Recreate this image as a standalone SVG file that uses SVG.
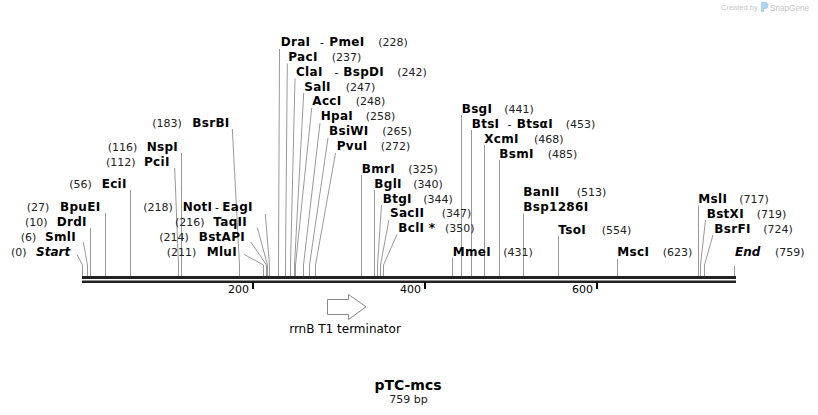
<svg xmlns="http://www.w3.org/2000/svg" width="818" height="415" viewBox="0 0 818 415">
<style>
text{font-family:"DejaVu Sans",Verdana,sans-serif;font-size:11px;fill:#000}
.b{font-weight:bold;font-size:12px;letter-spacing:0.3px}
.bi{font-weight:bold;font-style:italic;font-size:12px}
.p{fill:#222}
.c line,.c polyline{stroke:#999;stroke-width:1;fill:none}
.tick{fill:#000}
.logo{font-family:"Liberation Sans",Arial,sans-serif;fill:#c8c8c8}
</style>
<rect width="818" height="415" fill="#fff"/>
<g id="logo">
<text class="logo" x="721" y="10" style="font-size:7.5px">Created by</text>
<path d="M761 2 h4 a3.5 3.5 0 0 1 0 7 h-1 v3 h-3 z" fill="#a9d3ee"/>
<text class="logo" x="770" y="11" style="font-size:8.2px">SnapGene</text>
</g>
<g id="backbone">
<rect x="82" y="276" width="654" height="3" fill="#222"/>
<rect x="82" y="280.5" width="654" height="2.5" fill="#222"/>
<rect class="tick" x="252" y="282" width="2" height="7"/>
<rect class="tick" x="424" y="282" width="2" height="7"/>
<rect class="tick" x="596" y="282" width="2" height="7"/>
<text x="249" y="292.5" text-anchor="end">200</text>
<text x="421" y="292.5" text-anchor="end">400</text>
<text x="593" y="292.5" text-anchor="end">600</text>
</g>
<g class="c" id="connectors">
<polyline points="77.3,255 82.5,265 82.5,276"/>
<polyline points="83.3,242 87.5,265 87.5,276"/>
<line x1="90.5" y1="228" x2="90.5" y2="276"/>
<line x1="105.5" y1="213" x2="105.5" y2="276"/>
<line x1="130.5" y1="190" x2="130.5" y2="276"/>
<polyline points="174.7,168 178.5,265 178.5,276"/>
<line x1="181.5" y1="153" x2="181.5" y2="276"/>
<polyline points="232.3,129 239.5,265 239.5,276"/>
<polyline points="244.3,254.5 263.5,265 263.5,276"/>
<polyline points="250.7,242 266.5,265 266.5,276"/>
<polyline points="257.3,227.5 267.5,265 267.5,276"/>
<polyline points="265.3,214 269.5,265 269.5,276"/>
<polyline points="279.5,49 278.5,265 278.5,276"/>
<polyline points="287.3,63.5 285.5,265 285.5,276"/>
<polyline points="295,78.5 290.5,265 290.5,276"/>
<polyline points="303.7,93 294.5,265 294.5,276"/>
<polyline points="311.7,108 295.5,265 295.5,276"/>
<polyline points="320,123 303.5,265 303.5,276"/>
<polyline points="328,138 309.5,265 309.5,276"/>
<polyline points="335.5,153 315.5,265 315.5,276"/>
<line x1="361.5" y1="175" x2="361.5" y2="276"/>
<line x1="374.5" y1="190" x2="374.5" y2="276"/>
<polyline points="381.5,205 377.5,265 377.5,276"/>
<polyline points="389,219.5 380.5,265 380.5,276"/>
<polyline points="397,234.5 383.5,265 383.5,276"/>
<line x1="452.5" y1="258" x2="452.5" y2="276"/>
<line x1="461.5" y1="115" x2="461.5" y2="276"/>
<line x1="471.5" y1="130" x2="471.5" y2="276"/>
<line x1="484.5" y1="145" x2="484.5" y2="276"/>
<line x1="499.5" y1="160" x2="499.5" y2="276"/>
<line x1="523.5" y1="213.5" x2="523.5" y2="276"/>
<line x1="558.5" y1="236" x2="558.5" y2="276"/>
<line x1="617.5" y1="259" x2="617.5" y2="276"/>
<line x1="698.5" y1="205.5" x2="698.5" y2="276"/>
<polyline points="705.5,220 700.5,265 700.5,276"/>
<polyline points="713,235 704.5,265 704.5,276"/>
<line x1="734.5" y1="266" x2="734.5" y2="276"/>
</g>
<g id="Start"><text class="p" x="11" y="256">(0)</text><text class="bi" x="36" y="256">Start</text></g>
<g id="SmlI"><text class="p" x="20.7" y="241">(6)</text><text class="b" x="45" y="241">SmlI</text></g>
<g id="DrdI"><text class="p" x="25" y="226">(10)</text><text class="b" x="56.7" y="226">DrdI</text></g>
<g id="BpuEI"><text class="p" x="26.7" y="211">(27)</text><text class="b" x="60" y="211">BpuEI</text></g>
<g id="EciI"><text class="p" x="69.3" y="188">(56)</text><text class="b" x="101.7" y="188">EciI</text></g>
<g id="PciI"><text class="p" x="106" y="166">(112)</text><text class="b" x="144" y="166">PciI</text></g>
<g id="NspI"><text class="p" x="107.7" y="151">(116)</text><text class="b" x="146.7" y="151">NspI</text></g>
<g id="BsrBI"><text class="p" x="152.3" y="127">(183)</text><text class="b" x="192.3" y="127">BsrBI</text></g>
<g id="NotI-EagI"><text class="p" x="143.3" y="211">(218)</text><text class="b" x="182.7" y="211">NotI</text><text x="215" y="211">-</text><text class="b" x="222.3" y="211">EagI</text></g>
<g id="TaqII"><text class="p" x="175" y="226">(216)</text><text class="b" x="213.3" y="226">TaqII</text></g>
<g id="BstAPI"><text class="p" x="159.3" y="241">(214)</text><text class="b" x="198.7" y="241">BstAPI</text></g>
<g id="MluI"><text class="p" x="166.7" y="256">(211)</text><text class="b" x="206.7" y="256">MluI</text></g>
<g id="DraI-PmeI"><text class="b" x="280.7" y="46">DraI</text><text x="320" y="46">-</text><text class="b" x="329.3" y="46">PmeI</text><text class="p" x="378.3" y="46">(228)</text></g>
<g id="PacI"><text class="b" x="288.3" y="61">PacI</text><text class="p" x="331.7" y="61">(237)</text></g>
<g id="ClaI-BspDI"><text class="b" x="296" y="76">ClaI</text><text x="334.5" y="76">-</text><text class="b" x="343.3" y="76">BspDI</text><text class="p" x="397.3" y="76">(242)</text></g>
<g id="SalI"><text class="b" x="304.3" y="91">SalI</text><text class="p" x="345.7" y="91">(247)</text></g>
<g id="AccI"><text class="b" x="312.3" y="105">AccI</text><text class="p" x="355.7" y="105">(248)</text></g>
<g id="HpaI"><text class="b" x="320.7" y="120">HpaI</text><text class="p" x="365.7" y="120">(258)</text></g>
<g id="BsiWI"><text class="b" x="329" y="135">BsiWI</text><text class="p" x="382.3" y="135">(265)</text></g>
<g id="PvuI"><text class="b" x="336.7" y="150">PvuI</text><text class="p" x="380.7" y="150">(272)</text></g>
<g id="BmrI"><text class="b" x="361.7" y="173">BmrI</text><text class="p" x="408.3" y="173">(325)</text></g>
<g id="BglI"><text class="b" x="374.3" y="187.5">BglI</text><text class="p" x="413.3" y="187.5">(340)</text></g>
<g id="BtgI"><text class="b" x="382.7" y="202.5">BtgI</text><text class="p" x="423.3" y="202.5">(344)</text></g>
<g id="SacII"><text class="b" x="390" y="217">SacII</text><text class="p" x="441.7" y="217">(347)</text></g>
<g id="BclI"><text class="b" x="398.3" y="232">BclI *</text><text class="p" x="445" y="232">(350)</text></g>
<g id="MmeI"><text class="b" x="452.7" y="256">MmeI</text><text class="p" x="503.3" y="256">(431)</text></g>
<g id="BsgI"><text class="b" x="461.7" y="112.5">BsgI</text><text class="p" x="504.3" y="112.5">(441)</text></g>
<g id="BtsI-BtsaI"><text class="b" x="471.7" y="127.5">BtsI</text><text x="507.5" y="127.5">-</text><text class="b" x="516.7" y="127.5">BtsαI</text><text class="p" x="565.7" y="127.5">(453)</text></g>
<g id="XcmI"><text class="b" x="484.3" y="142.5">XcmI</text><text class="p" x="534" y="142.5">(468)</text></g>
<g id="BsmI"><text class="b" x="499.3" y="157.5">BsmI</text><text class="p" x="547.7" y="157.5">(485)</text></g>
<g id="BanII-Bsp1286I"><text class="b" x="523.3" y="195.7">BanII</text><text class="p" x="576.7" y="195.7">(513)</text><text class="b" x="523.3" y="210.7">Bsp1286I</text></g>
<g id="TsoI"><text class="b" x="558.3" y="233.5">TsoI</text><text class="p" x="601.7" y="233.5">(554)</text></g>
<g id="MscI"><text class="b" x="617.3" y="256">MscI</text><text class="p" x="662.7" y="256">(623)</text></g>
<g id="MslI"><text class="b" x="698.3" y="203">MslI</text><text class="p" x="739.3" y="203">(717)</text></g>
<g id="BstXI"><text class="b" x="706.7" y="217.5">BstXI</text><text class="p" x="756.7" y="217.5">(719)</text></g>
<g id="BsrFI"><text class="b" x="714.3" y="232.5">BsrFI</text><text class="p" x="763.3" y="232.5">(724)</text></g>
<g id="End"><text class="bi" x="735" y="256">End</text><text class="p" x="775" y="256">(759)</text></g>
<g id="feature">
<polygon points="327.5,299.5 348.5,299.5 348.5,294.5 366,306.8 348.5,319.5 348.5,314.5 327.5,314.5" fill="#fff" stroke="#888" stroke-width="1"/>
<text x="345" y="332.5" text-anchor="middle" style="font-size:12px">rrnB T1 terminator</text>
</g>
<g id="title">
<text x="408" y="390" text-anchor="middle" style="font-size:14px;font-weight:bold">pTC-mcs</text>
<text x="408.5" y="402.5" text-anchor="middle" style="fill:#222">759 bp</text>
</g>
</svg>
